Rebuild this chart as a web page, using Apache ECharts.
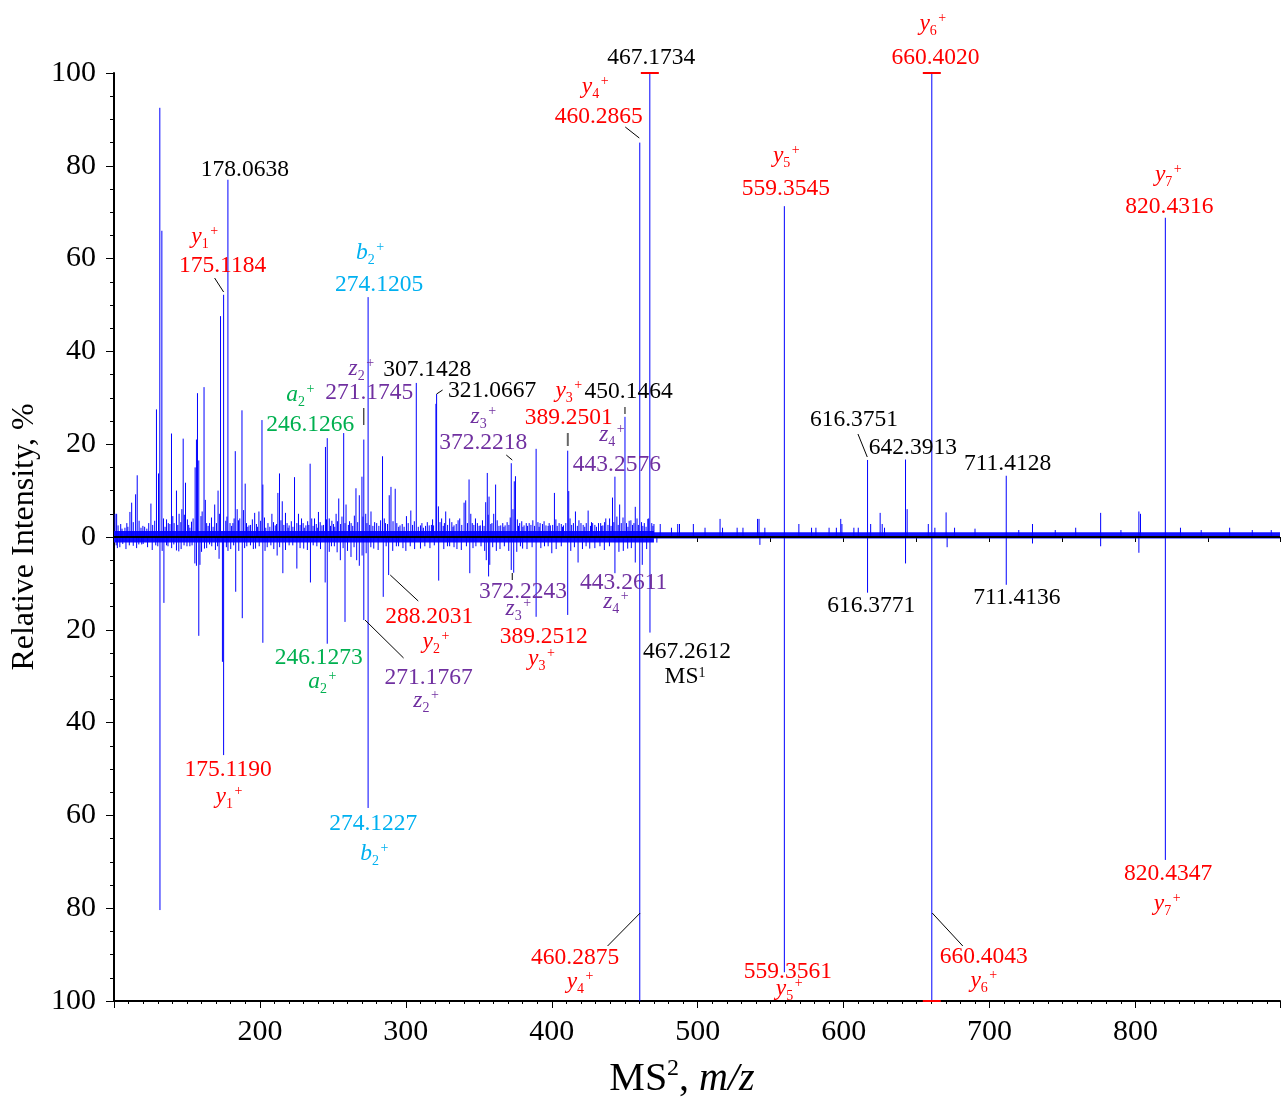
<!DOCTYPE html>
<html><head><meta charset="utf-8">
<script src="https://cdn.jsdelivr.net/npm/echarts@6/dist/echarts.min.js"></script>
<style>html,body{margin:0;padding:0;background:#fff}#c{width:1283px;height:1106px}</style>
</head><body><div id="c"></div>
<script>
// ================= DATA =================
const xMin = 100, xMax = 899;
const yMin = -100, yMax = 100;
const xTickLabels = [200, 300, 400, 500, 600, 700, 800];

// MS2 spectrum (upper, relative intensity %)
const ms2Mz = [100.7,101.8,104.6,107.5,110.9,112.1,113.2,114.8,115.9,118.5,121.0,125.3,127.9,129.1,130.5,131.4,132.8,136.0,137.2,139.4,
141.2,142.8,144.6,147.4,149.0,150.3,152.0,154.2,155.6,156.5,157.2,158.1,159.6,161.7,163.5,165.5,169.0,171.3,173.0,175.1184,
176.6,178.0638,179.5,181.5,183.1,184.4,186.2,187.7,189.9,192.5,196.4,199.3,201.4,202.0,204.0,208.2,210.5,212.3,213.4,215.3,
217.5,220.0,223.7,226.4,228.5,231.5,234.4,237.4,240.1,242.5,244.9,246.1266,249.3,252.2,254.0,257.4,259.0,262.5,265.8,268.1,
269.9,271.1745,274.1205,276.1,280.0,284.0,286.0,288.6,289.8,292.7,296.0,300.4,303.4,307.1428,310.0,312.0,316.0,319.0,320.6,321.0667,
322.3,324.5,327.3,330.0,333.0,336.9,339.9,341.0,343.3,345.5,347.7,351.0,354.7,355.8,357.0,359.0,361.5,365.0,368.0,372.2218,
374.3,375.1,378.0,381.0,384.5,389.2501,392.0,396.0,399.0,401.8,405.0,408.0,410.9,411.6,416.2,420.0,424.9,428.0,432.0,435.0,
437.0,441.6,443.2576,446.5,450.1464,453.0,457.2,460.2865,465.8,467.1734,468.5,470.0,474.3,482.0,486.3,487.5,497.0,505.0,515.3,517.0,
527.0,531.0,541.0,542.0,546.0,559.3545,569.3,578.0,581.0,590.0,595.0,598.0,598.8,607.0,610.0,616.3751,618.5,625.0,626.4,628.0,
642.3913,643.5,658.0,660.4020,662.5,670.2,676.0,690.0,711.4128,720.0,729.4,745.0,759.0,776.1,790.0,802.3,803.4,820.4316,830.8,845.0,
864.5,880.0,893.0];
const ms2Intensity = [5.0,5.0,2.8,2.0,5.4,7.4,3.2,9.2,13.3,2.0,2.2,7.2,3.5,27.5,13.7,92.5,66.0,3.8,3.0,22.3,
3.0,10.0,5.0,21.2,11.7,3.8,2.0,4.0,15.0,21.0,31.0,16.5,4.5,32.3,3.0,3.0,7.0,10.0,47.6,52.2,
3.5,77.0,3.0,3.0,18.5,6.0,4.0,27.3,11.5,2.5,5.2,5.5,25.2,11.3,2.0,5.0,2.5,9.5,13.7,7.7,
5.2,2.5,12.9,5.0,4.0,2.5,15.8,4.0,5.4,2.5,19.4,21.3,3.5,5.0,8.3,22.4,7.0,3.0,10.5,9.0,
13.0,21.0,51.7,5.5,3.0,17.4,3.0,9.0,10.8,10.4,2.5,4.5,5.7,33.2,2.5,2.0,2.5,2.5,28.7,30.8,
6.6,4.0,5.5,4.0,2.5,4.0,7.4,7.9,12.4,3.0,4.0,2.5,7.5,13.8,8.7,3.0,11.3,2.5,2.5,15.9,
12.0,13.1,3.0,2.5,3.0,19.0,3.0,2.5,2.5,9.5,3.0,2.5,18.6,9.9,5.5,3.0,5.7,3.0,3.0,2.5,
4.0,8.5,13.0,7.0,25.9,3.5,6.5,85.0,3.9,100,3.0,2.8,2.8,2.0,2.8,2.8,2.8,2.0,3.9,2.0,
2.0,2.0,3.9,3.9,2.0,71.3,2.8,2.0,2.0,2.0,2.0,3.9,2.8,2.0,2.0,16.6,2.8,5.2,2.8,2.0,
16.7,6.0,2.8,100,2.0,5.3,2.0,1.8,13.2,1.5,2.8,1.5,2.0,5.2,1.5,5.5,5.0,68.8,2.0,1.5,
2.0,1.5,1.5];
// MS2 low-level "grass" peaks
const ms2GrassMz = [102.8,105.5,108.8,109.5,117.2,119.8,122.5,123.8,126.5,133.9,135.0,138.3,140.3,143.7,145.8,146.5,148.2,151.2,153.1,160.4,
162.6,164.5,166.8,167.9,170.2,172.2,177.4,180.6,182.3,185.3,188.8,190.8,191.7,193.6,194.8,197.6,198.4,200.5,203.1,205.5,
206.8,209.3,211.4,214.4,216.4,218.6,219.3,221.5,222.6,225.3,227.5,229.6,230.4,232.7,233.5,235.5,236.4,238.6,239.3,241.3,
243.6,245.6,247.5,248.4,250.4,251.3,253.1,255.3,256.2,258.3,260.6,261.4,263.6,264.7,267.0,270.6,272.5,273.3,275.2,277.4,
278.6,281.5,282.7,285.2,287.4,291.2,293.8,295.1,297.5,298.8,301.6,304.6,305.8,308.5,311.0,313.5,314.7,317.5,318.3,323.4,
325.6,326.4,328.6,331.5,332.3,334.5,335.8,338.3,342.2,344.5,346.6,349.0,350.2,352.5,353.6,356.4,358.2,360.2,362.6,363.8,
366.4,367.2,369.4,370.6,371.5,373.4,376.4,377.2,379.4,380.2,382.5,383.4,385.7,387.0,388.2,390.5,391.3,393.6,394.7,397.5,
398.2,400.6,402.8,403.7,406.5,407.3,409.6,412.5,413.6,414.8,417.5,418.6,421.5,422.6,423.6,426.5,427.2,429.5,430.6,433.5,
434.2,436.2,438.5,439.6,440.6,442.5,444.6,445.5,447.6,448.8,451.2,452.2,454.2,455.3,456.3,458.4,459.3,461.5,462.4,463.4,
464.6,466.4,469.3];
const ms2GrassIntensity = [2.5,1.8,3.0,2.2,3.5,2.4,1.8,3.0,2.6,4.0,2.2,2.8,4.5,2.6,3.2,6.0,4.8,2.6,3.3,5.5,
8.0,2.4,4.2,2.2,3.0,5.0,4.4,2.4,4.0,3.6,5.8,3.0,2.2,2.6,3.8,2.8,2.2,3.5,4.2,3.0,
2.2,3.2,2.8,3.6,2.6,3.0,2.0,3.4,2.2,3.0,2.6,3.0,2.0,3.4,2.6,4.0,2.4,2.8,2.0,3.2,
2.6,3.8,4.0,2.4,2.8,2.2,3.4,2.8,4.4,3.0,2.6,3.4,2.4,4.6,3.2,4.4,5.0,3.0,2.6,2.4,
3.2,2.4,3.6,4.0,2.8,3.4,3.0,2.2,2.8,2.2,3.0,2.6,3.4,2.2,3.0,2.4,3.2,2.6,3.8,3.2,
2.4,3.0,2.6,3.2,2.2,2.8,3.6,2.6,3.0,5.0,2.6,3.0,2.4,3.6,2.4,4.8,2.8,5.0,3.6,2.4,
3.0,2.2,3.2,2.6,4.2,6.0,3.8,2.4,3.4,2.2,3.0,2.4,2.6,3.6,2.4,3.2,2.2,2.8,3.4,2.4,
3.0,2.6,3.8,2.4,2.8,2.2,3.0,4.0,2.6,3.0,2.4,3.6,2.6,2.2,3.0,2.4,3.2,2.6,2.2,3.0,
2.4,3.2,2.6,4.0,2.4,3.2,4.4,2.6,3.0,4.2,3.0,2.2,3.6,2.6,3.0,4.0,2.6,3.2,2.4,3.0,
2.2,4.0,2.4];

// Mirrored spectrum (lower, drawn as negative intensity %)
const mirrorMz = [102.3,106.0,113.2,117.0,120.0,126.2,130.0,131.5,134.2,137.0,142.8,144.4,148.0,152.0,155.4,156.5,158.1,158.9,162.0,167.0,
172.0,174.3,175.1190,178.1,183.4,187.9,191.0,197.0,202.0,205.0,211.8,215.7,220.0,225.3,230.0,234.6,239.0,244.7,246.1273,249.0,
252.9,255.1,258.3,262.4,266.3,268.1,271.1767,274.1227,278.0,284.5,288.2031,295.0,300.0,310.0,322.5,330.0,335.0,343.8,348.0,355.1,
356.7,357.5,362.0,372.2243,373.9,380.0,389.2512,395.0,400.0,410.9,418.0,426.0,433.0,443.2611,449.0,452.0,457.2,460.2875,462.0,467.2612,
472.0,542.6,559.3561,616.3771,642.4,660.4043,670.9,711.4136,729.4,776.1,802.3,820.4347];
const mirrorIntensity = [-2.4,-1.5,-1.9,-1.6,-1.5,-2.8,-2.0,-80.4,-14.2,-2.0,-2.9,-3.1,-1.8,-2.0,-5.7,-6.2,-21.3,-6.0,-2.5,-2.0,
-4.7,-26.9,-47.0,-3.0,-11.8,-17.5,-2.0,-2.5,-22.8,-2.2,-4.0,-7.8,-1.8,-6.8,-2.5,-9.8,-2.0,-9.8,-23.0,-2.0,
-3.3,-5.0,-18.3,-4.3,-5.0,-6.2,-17.9,-58.4,-2.5,-12.9,-8.2,-2.0,-3.0,-2.5,-9.4,-2.0,-2.6,-7.8,-2.0,-5.0,
-8.5,-6.0,-3.0,-7.1,-7.7,-2.5,-17.2,-2.0,-3.5,-16.8,-5.5,-2.5,-2.0,-7.8,-3.0,-2.5,-5.5,-100,-6.0,-20.6,
-1.2,-1.7,-93.8,-12.0,-5.7,-100,-2.2,-10.3,-1.4,-2.0,-3.4,-69.6];
// mirrored low-level "grass" peaks
const mirrorGrassMz = [101.5,104.0,108.2,110.5,115.5,119.0,123.0,128.6,133.0,136.0,139.5,141.0,146.0,150.0,153.5,160.0,163.5,165.5,169.5,171.0,
177.0,180.0,182.0,185.5,189.5,193.5,195.5,199.5,203.5,207.5,209.5,213.5,217.5,222.5,227.5,232.5,236.5,241.5,247.5,251.0,
257.0,260.0,264.5,270.0,272.8,276.0,281.0,286.5,291.0,293.5,298.0,303.0,306.0,313.0,316.5,319.5,326.0,328.5,333.0,338.0,
341.5,346.0,351.5,354.0,359.5,364.5,367.5,370.5,376.0,378.5,383.0,386.5,392.5,397.5,403.0,406.5,413.0,415.5,421.0,423.5,
429.5,436.0,439.5,446.0,454.5,465.0];
const mirrorGrassIntensity = [-1.8,-2.2,-2.6,-1.8,-2.4,-1.6,-2.2,-1.8,-3.0,-1.8,-2.4,-1.6,-2.6,-2.0,-1.8,-3.2,-2.4,-1.6,-2.8,-2.0,
-2.2,-2.6,-1.8,-3.0,-2.4,-1.8,-2.6,-2.0,-3.0,-1.8,-2.6,-2.2,-2.8,-1.8,-2.4,-2.8,-1.8,-2.6,-3.2,-2.0,
-2.4,-3.0,-2.2,-4.0,-3.5,-2.2,-2.8,-2.0,-3.0,-2.0,-2.4,-2.0,-2.6,-2.0,-2.4,-1.8,-2.6,-2.0,-2.2,-2.8,
-2.0,-2.4,-2.0,-3.0,-2.2,-2.6,-2.0,-3.0,-3.2,-2.0,-2.6,-2.2,-2.4,-2.0,-2.6,-2.0,-3.0,-2.2,-2.6,-2.0,
-2.4,-2.8,-2.0,-3.2,-2.4,-2.6];

// dense low-level noise floor (intensity range per m/z segment)
const noiseSegStart = [100, 470];
const noiseSegEnd = [470, 899];
const noiseLower = [-1.2, -0.3];
const noiseUpper = [1.3, 1.0];

// annotations: m/z of the annotated peak, printed value, ion name
const annotMz = [178.0638,175.1184,274.1205,307.1428,271.1745,246.1266,321.0667,372.2218,389.2501,450.1464,
443.2576,460.2865,467.1734,559.3545,660.4020,820.4316,616.3751,642.3913,711.4128,
288.2031,246.1273,271.1767,372.2243,443.2611,389.2512,467.2612,175.1190,274.1227,460.2875,559.3561,
660.4043,616.3771,711.4136,820.4347];
const annotValue = ['178.0638','175.1184','274.1205','307.1428','271.1745','246.1266','321.0667','372.2218','389.2501','450.1464',
'443.2576','460.2865','467.1734','559.3545','660.4020','820.4316','616.3751','642.3913','711.4128',
'288.2031','246.1273','271.1767','372.2243','443.2611','389.2512','467.2612','175.1190','274.1227','460.2875','559.3561',
'660.4043','616.3771','711.4136','820.4347'];
const annotIon = ['','y1','b2','','z2','a2','','z3','y3','',
'z4','y4','','y5','y6','y7','','','',
'y2','a2','z2','z3','z4','y3','MS1','y1','b2','y4','y5',
'y6','','','y7'];

// ================= LAYOUT / STYLE =================
const FONT = "'Liberation Serif','Times New Roman',serif";
const NUMF = "23.5px " + FONT;
const ITAL = "italic 23.5px " + FONT;
const SMALL = "14px " + FONT;
const COL = {k:'#000000', r:'#ff0000', c:'#00b0f0', g:'#00b050', p:'#7030a0'};
// offsets in px relative to (m/z, 0): n = number centre, i = ion centre, l = leader segments, cap = red bar at intensity
const annotLayout = [
 {c:'k', n:[17,-367]},
 {c:'r', n:[-1,-271], i:[-19,-299], l:[[-9,-259,0,-245]]},
 {c:'c', n:[11,-252], i:[2,-283]},
 {c:'k', n:[11,-167]},
 {c:'p', n:[5.5,-144], i:[-2.5,-167], l:[[0,-129,0,-112]]},
 {c:'g', n:[-17,-112], i:[-27,-141]},
 {c:'k', n:[55.5,-146], l:[[0,-143,6,-147]]},
 {c:'p', n:[-28,-94], i:[-28,-119], l:[[-5,-82,1,-77]]},
 {c:'r', n:[32.7,-119], i:[32.7,-145], l:[[31.7,-104,31.7,-91]], lc:'#666', lw:2},
 {c:'k', n:[3.6,-145], l:[[0,-130,0,-123]]},
 {c:'p', n:[2,-72], i:[-3,-101]},
 {c:'r', n:[-41,-420], i:[-44.5,-449], l:[[-14.5,-410,-0.5,-399]]},
 {c:'k', n:[1.4,-479], cap:100},
 {c:'r', n:[1.5,-348], i:[2,-380]},
 {c:'r', n:[3.7,-479], i:[1,-512], cap:100},
 {c:'r', n:[4,-330], i:[3,-361]},
 {c:'k', n:[-13.6,-117], l:[[-9.6,-103,-0.3,-80]]},
 {c:'k', n:[7.3,-89]},
 {c:'k', n:[1.3,-73]},
 {c:'r', n:[40.6,80], i:[47.3,106], l:[[1.6,38,29.6,64]]},
 {c:'g', n:[-8.5,121], i:[-5,146]},
 {c:'p', n:[64.8,141], i:[62.2,165], l:[[1.2,83,39.8,121]]},
 {c:'p', n:[11.7,55], i:[7,73], l:[[1,36,1,43]]},
 {c:'p', n:[8.7,46], i:[1,66]},
 {c:'r', n:[7.7,100], i:[5.4,123]},
 {c:'k', n:[37,115], i:[35.3,141]},
 {c:'r', n:[4.4,233], i:[5.4,261]},
 {c:'c', n:[5.2,287], i:[6.2,318]},
 {c:'r', n:[-64.7,421], i:[-59.7,446], l:[[0.4,376,-32.2,409]]},
 {c:'r', n:[3.5,435], i:[4.8,453]},
 {c:'r', n:[52,420], i:[52,445], l:[[0.4,376,31,409]], cap:-100},
 {c:'k', n:[3.7,69]},
 {c:'k', n:[10.6,61]},
 {c:'r', n:[2.8,337], i:[1.8,368]}
];

const mctx = document.createElement('canvas').getContext('2d');
function tw(s, f){ mctx.font = f; return mctx.measureText(s).width; }
function T(text, x, y, fill, font, align){
  return {type:'text', x:x, y:y, style:{text:text, fill:fill, font:font, align:align||'center', verticalAlign:'middle', textAlign:align||'center', textVerticalAlign:'middle'}};
}
function pushIon(ch, ion, cx, cy, col){
  let letter, sub = '', sup = '+', lf = ITAL;
  if (ion === 'MS1') { letter = 'MS'; sup = '1'; lf = NUMF; }
  else { letter = ion[0]; sub = ion.slice(1); }
  const wl = tw(letter, lf), ws = sub ? tw(sub, SMALL) : 0, wp = tw(sup, SMALL);
  const gap = sub ? 1.5 : 0.5;
  let x = cx - (wl + ws + gap + wp) / 2;
  ch.push(T(letter, x, cy - 1, col, lf, 'left'));
  x += wl;
  if (sub) { ch.push(T(sub, x, cy + 6, col, SMALL, 'left')); x += ws + gap; }
  ch.push(T(sup, x, cy - (ion === 'MS1' ? 5 : 7), col, SMALL, 'left'));
}

function renderPeak(params, api){
  const p0 = api.coord([api.value(0), 0]);
  const p1 = api.coord([api.value(0), api.value(1)]);
  return {type:'line', shape:{x1:p0[0], y1:p0[1], x2:p1[0], y2:p1[1]}, style:{stroke:'#0000ff', lineWidth:1}};
}
function renderNoise(params, api){
  const a = api.coord([api.value(0), api.value(3)]);
  const b = api.coord([api.value(1), api.value(2)]);
  return {type:'rect', shape:{x:a[0], y:a[1], width:b[0]-a[0], height:b[1]-a[1]}, style:{fill:'#1010ff'}};
}
function renderAnnot(params, api){
  const i = api.value(2);
  const L = annotLayout[i];
  const base = api.coord([annotMz[i], 0]);
  const bx = base[0], by = base[1];
  const col = COL[L.c];
  const ch = [];
  (L.l || []).forEach(s => ch.push({type:'line', shape:{x1:bx+s[0], y1:by+s[1], x2:bx+s[2], y2:by+s[3]}, style:{stroke:L.lc||'#000', lineWidth:L.lw||1}}));
  if (L.cap !== undefined) {
    const p = api.coord([annotMz[i], L.cap]);
    ch.push({type:'line', shape:{x1:p[0]-9, y1:p[1], x2:p[0]+9, y2:p[1]}, style:{stroke:'#ff0000', lineWidth:2}});
  }
  ch.push(T(annotValue[i], bx + L.n[0], by + L.n[1], col, NUMF));
  if (annotIon[i]) pushIon(ch, annotIon[i], bx + L.i[0], by + L.i[1], col);
  return {type:'group', children:ch};
}

const pairs = (mz, it) => mz.map((m,i)=>[m, it[i]]);
const peakData = pairs(ms2GrassMz, ms2GrassIntensity)
  .concat(pairs(mirrorGrassMz, mirrorGrassIntensity))
  .concat(pairs(ms2Mz, ms2Intensity))
  .concat(pairs(mirrorMz, mirrorIntensity));
const noiseData = noiseSegStart.map((s,i)=>[s, noiseSegEnd[i], noiseLower[i], noiseUpper[i]]);
const annotData = annotMz.map((m,i)=>[m, 0, i]);

const chart = echarts.init(document.getElementById('c'), null, {renderer:'canvas'});
chart.setOption({
  animation:false,
  backgroundColor:'#ffffff',
  grid:{left:114, right:0, top:73, bottom:105, containLabel:false},
  xAxis:[{
    type:'value', min:xMin, max:xMax, interval:100, position:'bottom',
    axisLine:{onZero:false, lineStyle:{color:'#000', width:2}},
    axisTick:{show:true, inside:false, length:7, lineStyle:{color:'#000', width:1}},
    minorTick:{show:true, splitNumber:10, length:3, lineStyle:{color:'#000', width:1}},
    splitLine:{show:false},
    axisLabel:{margin:16, fontFamily:FONT, fontSize:30, color:'#000',
      formatter:v => xTickLabels.indexOf(v) >= 0 ? String(v) : ''},
    name:'{a|MS}{s|2}{a|, }{i|m/z}', nameLocation:'middle', nameGap:56,
    nameTextStyle:{padding:[0,30,0,0], rich:{
      a:{fontFamily:FONT, fontSize:40, color:'#000'},
      s:{fontFamily:FONT, fontSize:24, color:'#000', padding:[0,0,20,0]},
      i:{fontFamily:FONT, fontSize:40, fontStyle:'italic', color:'#000'}}}
  },{
    type:'value', min:xMin, max:xMax, interval:50, position:'bottom',
    axisLine:{show:false}, axisLabel:{show:false}, splitLine:{show:false},
    axisTick:{show:true, length:5, lineStyle:{color:'#000', width:1}}
  }],
  yAxis:{
    type:'value', min:yMin, max:yMax, interval:20,
    axisLine:{onZero:false, lineStyle:{color:'#000', width:2}},
    axisTick:{show:true, length:8, lineStyle:{color:'#000', width:1}},
    minorTick:{show:true, splitNumber:4, length:4, lineStyle:{color:'#000', width:1}},
    splitLine:{show:false},
    axisLabel:{margin:18, fontFamily:FONT, fontSize:30, color:'#000', formatter:v => String(Math.abs(v))},
    name:'Relative Intensity, %', nameLocation:'middle', nameGap:73,
    nameTextStyle:{fontFamily:FONT, fontSize:32, color:'#000'}
  },
  series:[
    {type:'custom', name:'noise', renderItem:renderNoise, data:noiseData, encode:{x:[0,1], y:[2,3]}, silent:true, z:2},
    {type:'custom', name:'peaks', renderItem:renderPeak, data:peakData, encode:{x:0, y:1}, silent:true, z:3},
    {type:'line', name:'zero', data:[[xMin,0],[xMax,0]], symbol:'none', lineStyle:{color:'#000', width:2}, silent:true, z:4},
    {type:'custom', name:'annot', renderItem:renderAnnot, data:annotData, encode:{x:0, y:1}, silent:true, z:5}
  ]
});
</script></body></html>
